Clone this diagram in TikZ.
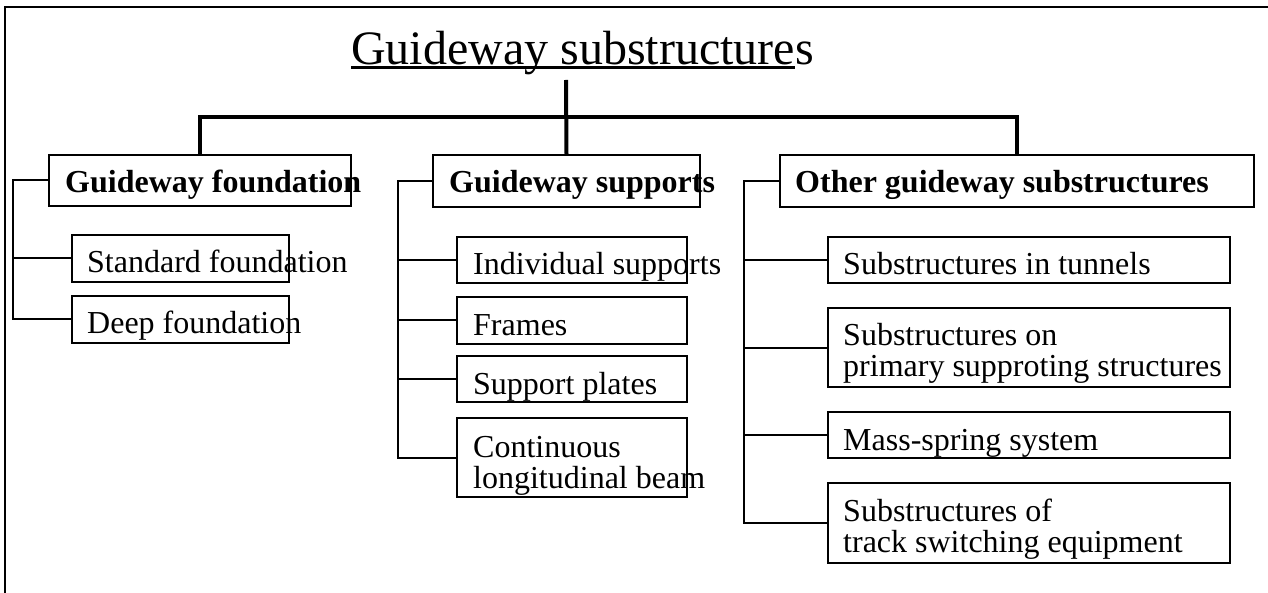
\documentclass[tikz,border=0pt]{standalone}
\usepackage{fontspec}
\setmainfont{Liberation Serif}
\usetikzlibrary{calc}
\newsavebox\ttlbox
% two stacked lines whose baseline is the first line's baseline
\newcommand\twoline[2]{\vtop{\hbox{#1}\hbox{#2}}}
\begin{document}
\begin{tikzpicture}[x=1pt,y=-1pt,
  frame/.style={line width=2.5pt},
  trunk/.style={line width=4pt},
  link/.style={line width=2pt},
  box/.style={draw, line width=1.8pt, rectangle, inner sep=0pt, outer sep=0pt, anchor=north west},
  txt/.style={anchor=base west, inner sep=0pt, font=\fontsize{32}{31}\selectfont},
  head/.style={txt, font=\fontsize{32}{31}\selectfont\bfseries}]
\useasboundingbox (0,0) rectangle (1268,593);

% outer frame (top and left edges)
\draw[frame] (1268,7) -- (5,7) -- (5,593);

% title with its underline
\node[anchor=base west, inner sep=0pt, font=\fontsize{48}{48}\selectfont] (title) at (351,65)
  {\sbox\ttlbox{Guideway substructure}\rlap{\rule[-4pt]{\wd\ttlbox}{2.5pt}}\usebox\ttlbox s};

% main groups
\node[box, minimum width=302pt, minimum height=51pt] (gf) at (49,155) {};
\node[box, minimum width=267pt, minimum height=52pt] (gs) at (433,155) {};
\node[box, minimum width=474pt, minimum height=52pt] (go) at (780,155) {};

% foundation items
\node[box, minimum width=217pt, minimum height=47pt] (sf) at (72,235) {};
\node[box, minimum width=217pt, minimum height=47pt] (df) at (72,296) {};

% support items
\node[box, minimum width=230pt, minimum height=46pt] (is) at (457,237) {};
\node[box, minimum width=230pt, minimum height=47pt] (fr) at (457,297) {};
\node[box, minimum width=230pt, minimum height=46pt] (sp) at (457,356) {};
\node[box, minimum width=230pt, minimum height=79pt] (cl) at (457,418) {};

% other substructure items
\node[box, minimum width=402pt, minimum height=46pt] (st) at (828,237) {};
\node[box, minimum width=402pt, minimum height=79pt] (pr) at (828,308) {};
\node[box, minimum width=402pt, minimum height=46pt] (ms) at (828,412) {};
\node[box, minimum width=402pt, minimum height=80pt] (ts) at (828,483) {};

% labels
\node[head] (gft) at ($(gf.south west)+(16,-13)$) {Guideway foundation};
\node[head] (gst) at ($(gs.south west)+(16,-14)$) {Guideway supports};
\node[head] (got) at ($(go.south west)+(15,-14)$) {Other guideway substructures};

\node[txt] (sft) at ($(sf.south west)+(15,-9)$) {Standard foundation};
\node[txt] (dft) at ($(df.south west)+(15,-9)$) {Deep foundation};

\node[txt] (ist) at ($(is.south west)+(16,-8)$) {Individual supports};
\node[txt] (frt) at ($(fr.south west)+(16,-9)$) {Frames};
\node[txt] (spt) at ($(sp.south west)+(16,-8)$) {Support plates};
\node[txt] (clt) at ($(cl.south west)+(16,-40)$) {\twoline{Continuous}{longitudinal beam}};

\node[txt] (stt) at ($(st.south west)+(15,-8)$) {Substructures in tunnels};
\node[txt] (prt) at ($(pr.south west)+(15,-42)$) {\twoline{Substructures on}{primary supproting structures}};
\node[txt] (mst) at ($(ms.south west)+(15,-8)$) {Mass-spring system};
\node[txt] (tst) at ($(ts.south west)+(15,-42)$) {\twoline{Substructures of}{track switching equipment}};

% main tree
\coordinate (top) at (566,80);
\coordinate (bar) at (566,117);
\draw[trunk] (top) -- (gs.north);
\draw[trunk] (gf.north) -- (gf.north |- bar) -- (go.north |- bar) -- (go.north);

% side brackets
\coordinate (fx) at (13,0);
\coordinate (sx) at (398,0);
\coordinate (ox) at (744,0);

\draw[link] (gf.west) -- (gf.west -| fx) -- (fx |- df.west) -- (df.west);
\draw[link] (fx |- sf.west) -- (sf.west);

\draw[link] (gs.west) -- (gs.west -| sx) -- (sx |- cl.west) -- (cl.west);
\draw[link] (sx |- is.west) -- (is.west);
\draw[link] (sx |- fr.west) -- (fr.west);
\draw[link] (sx |- sp.west) -- (sp.west);

\draw[link] (go.west) -- (go.west -| ox) -- (ox |- ts.west) -- (ts.west);
\draw[link] (ox |- st.west) -- (st.west);
\draw[link] (ox |- pr.west) -- (pr.west);
\draw[link] (ox |- ms.west) -- (ms.west);
\end{tikzpicture}
\end{document}
